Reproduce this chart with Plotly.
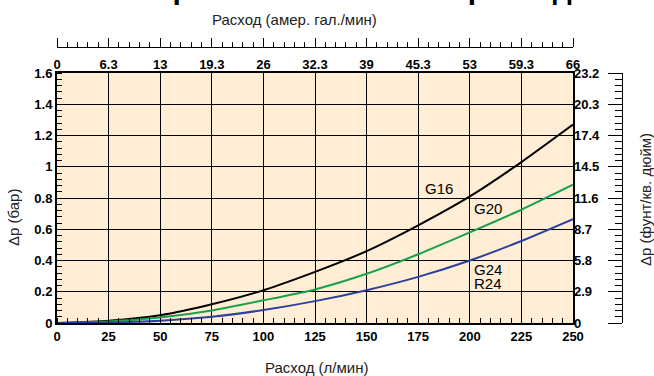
import plotly.graph_objects as go

# ---- data ----
flow_lpm = [0, 25, 50, 75, 100, 125, 150, 175, 200, 225, 250]
dp_g16 = [0, 0.015, 0.05, 0.12, 0.21, 0.327, 0.46, 0.625, 0.81, 1.03, 1.27]
dp_g20 = [0, 0.01, 0.035, 0.08, 0.145, 0.215, 0.315, 0.44, 0.58, 0.725, 0.885]
dp_g24 = [0, 0.003, 0.015, 0.04, 0.083, 0.14, 0.21, 0.295, 0.40, 0.525, 0.665]

x_tickvals = [0, 25, 50, 75, 100, 125, 150, 175, 200, 225, 250]
x_ticktext = ["0", "25", "50", "75", "100", "125", "150", "175", "200", "225", "250"]
gal_ticktext = ["0", "6.3", "13", "19.3", "26", "32.3", "39", "45.3", "53", "59.3", "66"]
y_tickvals = [0, 0.2, 0.4, 0.6, 0.8, 1.0, 1.2, 1.4, 1.6]
y_ticktext = ["0", "0.2", "0.4", "0.6", "0.8", "1", "1.2", "1.4", "1.6"]
psi_ticktext = ["0", "2.9", "5.8", "8.7", "11.6", "14.5", "17.4", "20.3", "23.2"]

series = [
    ("G16", dp_g16, "#000000"),
    ("G20", dp_g20, "#19a04a"),
    ("G24", dp_g24, "#2b3f9e"),
]

W, H = 654, 376
ML, MR, MT, MB = 57, 32, 47, 53
PW, PH = W - ML - MR, H - MT - MB
PLOT_RIGHT, PLOT_TOP = 573, 73

def px(xpix):
    return (xpix - ML) / PW

def py(ypix):
    return (H - MB - ypix) / PH

FONT = "Liberation Sans"
tickfont = dict(family=FONT, size=13, color="black", weight="bold")

fig = go.Figure()
for name, vals, color in series:
    fig.add_trace(go.Scatter(x=flow_lpm, y=vals, mode="lines", name=name,
                             line=dict(color=color, width=2, shape="spline", smoothing=0.6),
                             showlegend=False, xaxis="x", yaxis="y"))

xdom = [0, px(PLOT_RIGHT)]
ydom = [0, py(PLOT_TOP)]

fig.update_layout(
    width=W, height=H, autosize=False,
    margin=dict(l=ML, r=MR, t=MT, b=MB, autoexpand=False),
    paper_bgcolor="white", plot_bgcolor="#FFEED5",
    xaxis=dict(domain=xdom, anchor="y", range=[0, 250], tickmode="array",
               tickvals=x_tickvals, ticktext=x_ticktext, tickfont=tickfont,
               ticks="", showgrid=True, gridcolor="black", gridwidth=1,
               showline=True, linecolor="black", linewidth=2, mirror=True,
               zeroline=False, ticklabelstandoff=0, automargin=False,
               minor=dict(dtick=5, tick0=0, ticks="inside", ticklen=5,
                          tickcolor="black", tickwidth=1, showgrid=False)),
    yaxis=dict(domain=ydom, anchor="x", range=[0, 1.6], tickmode="array",
               tickvals=y_tickvals, ticktext=y_ticktext, tickfont=tickfont,
               ticks="", showgrid=True, gridcolor="black", gridwidth=1,
               showline=True, linecolor="black", linewidth=2, mirror=True,
               zeroline=False, ticklabelstandoff=0, automargin=False,
               minor=dict(dtick=0.04, tick0=0, ticks="inside", ticklen=5,
                          tickcolor="black", tickwidth=1, showgrid=False)),
    xaxis2=dict(overlaying="x", anchor="free", position=1, side="top",
                range=[0, 250], tickmode="linear", tick0=0, dtick=25,
                ticks="outside", ticklen=9, tickcolor="black", tickwidth=1,
                showticklabels=False, showgrid=False, zeroline=False,
                showline=True, linecolor="black", linewidth=1, automargin=False,
                minor=dict(dtick=5, tick0=0, ticks="outside", ticklen=5,
                           tickcolor="black", tickwidth=1, showgrid=False)),
    xaxis3=dict(overlaying="x", anchor="y", side="top", range=[0, 250],
                tickmode="array", tickvals=x_tickvals, ticktext=gal_ticktext,
                tickfont=tickfont, ticks="", showgrid=False, zeroline=False,
                showline=False, ticklabelstandoff=0, automargin=False),
    yaxis2=dict(overlaying="y", anchor="free", position=1, side="left",
                range=[0, 1.6], tickmode="linear", tick0=0, dtick=0.2,
                ticks="outside", ticklen=14, tickcolor="black", tickwidth=1,
                showticklabels=False, showgrid=False, zeroline=False,
                showline=True, linecolor="black", linewidth=1, automargin=False,
                minor=dict(dtick=0.04, tick0=0, ticks="outside", ticklen=7,
                           tickcolor="black", tickwidth=1, showgrid=False)),
    yaxis3=dict(overlaying="y", anchor="x", side="right", range=[0, 1.6],
                tickmode="array", tickvals=y_tickvals, ticktext=psi_ticktext,
                tickfont=tickfont, ticks="", showgrid=False, zeroline=False,
                showline=False, ticklabelstandoff=0, automargin=False),
)

# dummy traces so overlay axes render
fig.add_trace(go.Scatter(x=[None], y=[None], xaxis="x2", yaxis="y", showlegend=False, hoverinfo="skip"))
fig.add_trace(go.Scatter(x=[None], y=[None], xaxis="x3", yaxis="y", showlegend=False, hoverinfo="skip"))
fig.add_trace(go.Scatter(x=[None], y=[None], xaxis="x", yaxis="y2", showlegend=False, hoverinfo="skip"))
fig.add_trace(go.Scatter(x=[None], y=[None], xaxis="x", yaxis="y3", showlegend=False, hoverinfo="skip"))

titlefont = dict(family=FONT, size=15, color="#222222")
annos = [
    dict(text="Расход (амер. гал./мин)", x=px(294), y=py(19), xref="paper", yref="paper",
         showarrow=False, font=titlefont, xanchor="center", yanchor="middle"),
    dict(text="Расход (л/мин)", x=px(317), y=py(367), xref="paper", yref="paper",
         showarrow=False, font=titlefont, xanchor="center", yanchor="middle"),
    dict(text="Δp (бар)", x=px(13), y=py(218), xref="paper", yref="paper", textangle=-90,
         showarrow=False, font=titlefont, xanchor="center", yanchor="middle"),
    dict(text="Δp (фунт/кв. дюйм)", x=px(645), y=py(200), xref="paper", yref="paper",
         textangle=-90, showarrow=False, font=titlefont, xanchor="center", yanchor="middle"),
    dict(text="Δр в зависимости от расхода", x=px(370), y=py(7), xref="paper", yref="paper",
         showarrow=False, font=dict(family=FONT, size=30, color="black", weight="bold"),
         xanchor="center", yanchor="bottom"),
]
label_font = dict(family=FONT, size=15, color="black")
curve_labels = [("G16", 185, 0.86), ("G20", 209, 0.73), ("G24", 209, 0.34), ("R24", 209, 0.25)]
for txt, lx, ly in curve_labels:
    annos.append(dict(text=txt, x=lx, y=ly, xref="x", yref="y", showarrow=False,
                      font=label_font, xanchor="center", yanchor="middle"))
fig.update_layout(annotations=annos)

fig.write_html("out.html", config={"displayModeBar": False},
               post_script="document.body.style.margin='0';document.body.style.padding='0';")
